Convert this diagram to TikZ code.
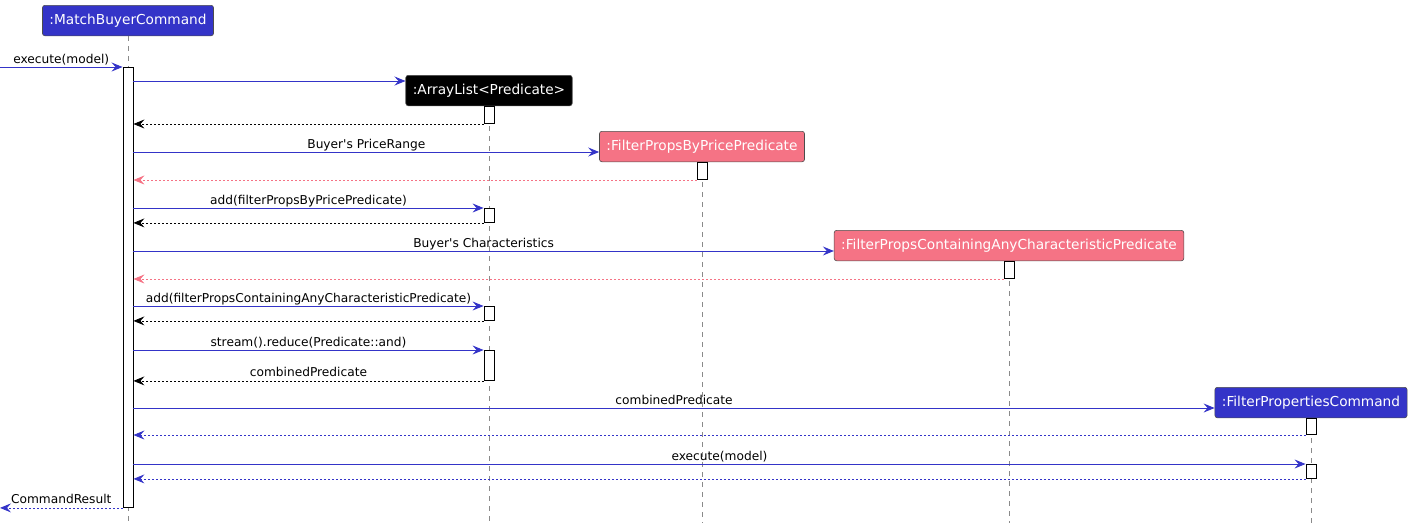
\documentclass[tikz,border=0pt]{standalone}
\usepackage{fontspec}
\setmainfont{DejaVu Sans}
\usepackage{tikz}
\usetikzlibrary{positioning,arrows.meta}
\definecolor{umlblue}{HTML}{3434C8}
\definecolor{umlpink}{HTML}{F57385}
\definecolor{lifegrey}{HTML}{8A8A8A}

\begin{document}
\begin{tikzpicture}[x=1pt,y=-1pt]
\tikzstyle{head}=[rectangle, rounded corners=2.5pt, draw=black!70, line width=0.6pt, text=white, inner xsep=7pt, inner ysep=0pt, minimum height=30.5pt, anchor=north, font=\fontsize{13.7}{16}\selectfont]
\tikzstyle{act}=[rectangle, draw=black, fill=white, line width=0.9pt, minimum width=10pt, inner sep=0pt, anchor=north]
\tikzstyle{lifeline}=[lifegrey, line width=0.9pt, dash pattern=on 5pt off 5pt]
\tikzstyle{call}=[umlblue, line width=0.9pt, -{Stealth[length=11pt, width=9pt, inset=4pt]}]
\tikzstyle{ret}=[line width=0.8pt, dash pattern=on 2pt off 2pt, -{Stealth[length=11pt, width=9pt, inset=4pt]}]
\tikzstyle{lbl}=[text=black, midway, anchor=base, yshift=4pt, inner sep=0pt, font=\fontsize{12.2}{14}\selectfont]
\useasboundingbox (0,0) rectangle (1413,531);
	\coordinate (bottom) at (0,523);
	\coordinate (in) at (0,67);

	% participants
	\node[head, fill=umlblue] (mbc) at (128,5) {:MatchBuyerCommand};
	\node[head, fill=black] (al) at (489,75) {:ArrayList<Predicate>};
	\node[head, fill=umlpink] (fpp) at (702,131) {:FilterPropsByPricePredicate};
	\node[head, fill=umlpink] (fpc) at (1009,230) {:FilterPropsContainingAnyCharacteristicPredicate};
	\node[head, fill=umlblue] (cmd) at (1311,387) {:FilterPropertiesCommand};

	\foreach \n in {mbc,al,fpp,fpc,cmd}
		\draw[lifeline] (\n.south) -- (\n.south |- bottom);

	% activations
	\node[act, minimum height=440pt] (mbcA) at (128,67) {};
	\node[act, minimum height=17pt] (alA1) at (al.south) {};
	\node[act, minimum height=14pt] (alA2) at (489,208) {};
	\node[act, minimum height=14pt] (alA3) at (489,306) {};
	\node[act, minimum height=30pt] (alA4) at (489,350) {};
	\node[act, minimum height=17pt] (fppA) at (fpp.south) {};
	\node[act, minimum height=17pt] (fpcA) at (fpc.south) {};
	\node[act, minimum height=16pt] (cmdA1) at (cmd.south) {};
	\node[act, minimum height=14pt] (cmdA2) at (1311,464) {};
	\coordinate (out) at (mbcA.south west -| in);

	\coordinate (m1) at (0,81);
	\coordinate (m2) at (0,152);
	\coordinate (m3) at (0,251);
	\coordinate (m4) at (0,408);

	% messages
	\draw[call] (in) -- (mbcA.north west) node[lbl] {execute(model)};
	\draw[call] (mbcA.east |- m1) -- (al.west |- m1);
	\draw[ret] (alA1.south west) -- (mbcA.east |- alA1.south);
	\draw[call] (mbcA.east |- m2) -- (fpp.west |- m2) node[lbl] {Buyer\textquotesingle s PriceRange};
	\draw[ret, umlpink] (fppA.south west) -- (mbcA.east |- fppA.south);
	\draw[call] (mbcA.east |- alA2.north) -- (alA2.north west) node[lbl] {add(filterPropsByPricePredicate)};
	\draw[ret] (alA2.south west) -- (mbcA.east |- alA2.south);
	\draw[call] (mbcA.east |- m3) -- (fpc.west |- m3) node[lbl] {Buyer\textquotesingle s Characteristics};
	\draw[ret, umlpink] (fpcA.south west) -- (mbcA.east |- fpcA.south);
	\draw[call] (mbcA.east |- alA3.north) -- (alA3.north west) node[lbl] {add(filterPropsContainingAnyCharacteristicPredicate)};
	\draw[ret] (alA3.south west) -- (mbcA.east |- alA3.south);
	\draw[call] (mbcA.east |- alA4.north) -- (alA4.north west) node[lbl] {stream().reduce(Predicate::and)};
	\draw[ret] (alA4.south west) -- (mbcA.east |- alA4.south) node[lbl] {combinedPredicate};
	\draw[call] (mbcA.east |- m4) -- (cmd.west |- m4) node[lbl] {combinedPredicate};
	\draw[ret, umlblue] (cmdA1.south west) -- (mbcA.east |- cmdA1.south);
	\draw[call] (mbcA.east |- cmdA2.north) -- (cmdA2.north west) node[lbl] {execute(model)};
	\draw[ret, umlblue] (cmdA2.south west) -- (mbcA.east |- cmdA2.south);
	\draw[ret, umlblue] (mbcA.south west) -- (out) node[lbl] {CommandResult};
\end{tikzpicture}
\end{document}
